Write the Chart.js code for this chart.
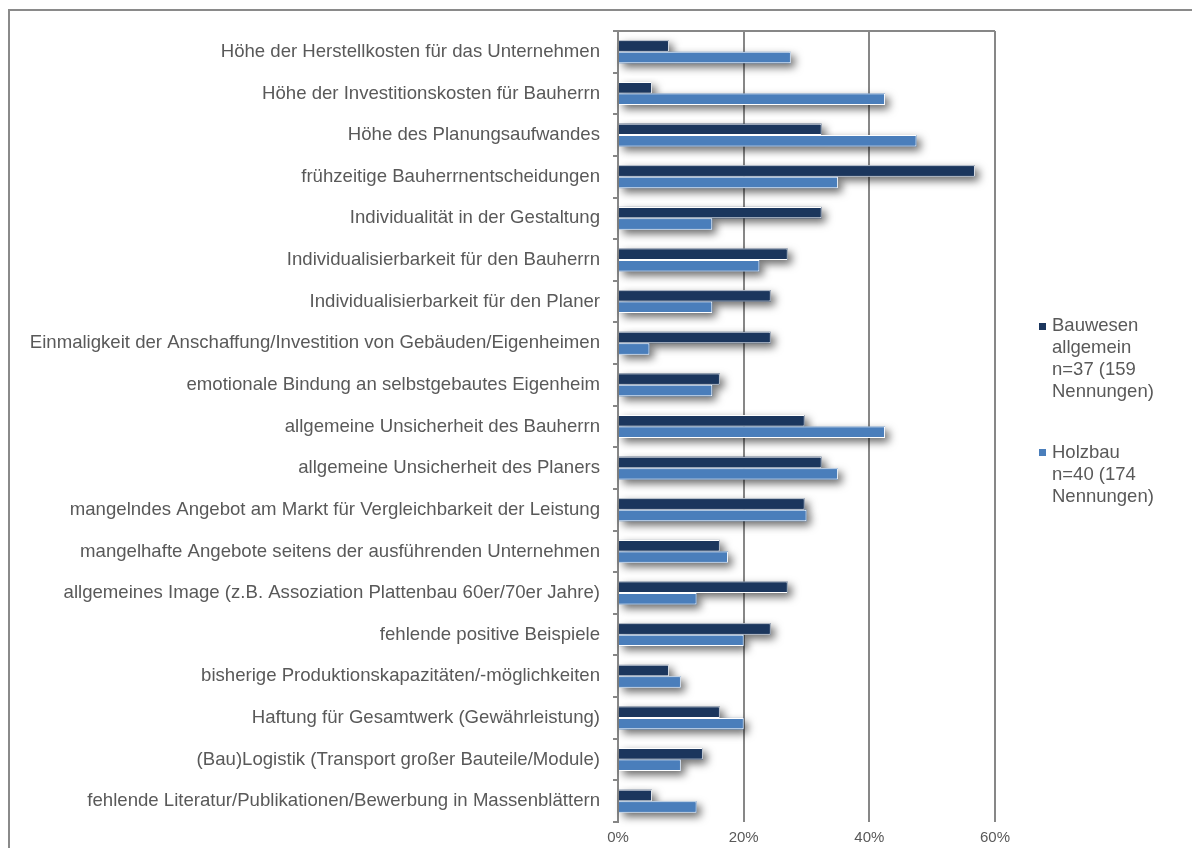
<!DOCTYPE html>
<html>
<head>
<meta charset="utf-8">
<script src="https://cdn.jsdelivr.net/npm/chart.js@4"></script>
<style>
  body { margin: 0; background: #fff; font-family: "Liberation Sans", Arial, sans-serif; }
  #wrap { position: relative; width: 1192px; height: 848px; overflow: hidden; }
  #frame { position: absolute; left: 8px; top: 9px; width: 1400px; height: 1000px; border: 2px solid #8a8a8a; box-sizing: border-box; }
  canvas { position: absolute; left: 0; top: 0; }
  .leg { position: absolute; left: 1052px; font-size: 18.5px; line-height: 22px; color: #595959; }
  .sw { position: absolute; left: 1039px; width: 7px; height: 7px; }
</style>
</head>
<body>
<div id="wrap">
  <div id="frame"></div>
  <canvas id="chart" width="1192" height="848"></canvas>
  <div class="sw" style="top:323px;background:#1b365d"></div>
  <div class="leg" style="top:314px">Bauwesen<br>allgemein<br>n=37 (159<br>Nennungen)</div>
  <div class="sw" style="top:449px;background:#4a7ebb"></div>
  <div class="leg" style="top:441px">Holzbau<br>n=40 (174<br>Nennungen)</div>
</div>
<script>
const categories = [
  'Höhe der Herstellkosten für das Unternehmen',
  'Höhe der Investitionskosten für Bauherrn',
  'Höhe des Planungsaufwandes',
  'frühzeitige Bauherrnentscheidungen',
  'Individualität in der Gestaltung',
  'Individualisierbarkeit für den Bauherrn',
  'Individualisierbarkeit für den Planer',
  'Einmaligkeit der Anschaffung/Investition von Gebäuden/Eigenheimen',
  'emotionale Bindung an selbstgebautes Eigenheim',
  'allgemeine Unsicherheit des Bauherrn',
  'allgemeine Unsicherheit des Planers',
  'mangelndes Angebot am Markt für Vergleichbarkeit der Leistung',
  'mangelhafte Angebote seitens der ausführenden Unternehmen',
  'allgemeines Image (z.B. Assoziation Plattenbau 60er/70er Jahre)',
  'fehlende positive Beispiele',
  'bisherige Produktionskapazitäten/-möglichkeiten',
  'Haftung für Gesamtwerk (Gewährleistung)',
  '(Bau)Logistik (Transport großer Bauteile/Module)',
  'fehlende Literatur/Publikationen/Bewerbung in Massenblättern'
];

// percentages of respondents
const bauwesen = [8.1, 5.4, 32.4, 56.8, 32.4, 27.0, 24.3, 24.3, 16.2, 29.7, 32.4, 29.7, 16.2, 27.0, 24.3, 8.1, 16.2, 13.5, 5.4];
const holzbau = [27.5, 42.5, 47.5, 35.0, 15.0, 22.5, 15.0, 5.0, 15.0, 42.5, 35.0, 30.0, 17.5, 12.5, 20.0, 10.0, 20.0, 10.0, 12.5];

const xTicks = [0, 20, 40, 60];

const seriesNames = ['Bauwesen allgemein n=37 (159 Nennungen)', 'Holzbau n=40 (174 Nennungen)'];

const gridGray = '#878787';
const textGray = '#595959';

// soft drop shadow behind every bar
const barShadow = {
  id: 'barShadow',
  beforeDatasetsDraw(chart) {
    const ctx = chart.ctx;
    ctx.save();
    ctx.shadowColor = 'rgba(0,0,0,0.6)';
    ctx.shadowBlur = 8;
    ctx.shadowOffsetX = 4;
    ctx.shadowOffsetY = 4;
    chart.data.datasets.forEach((ds, i) => {
      chart.getDatasetMeta(i).data.forEach(bar => {
        const { x, y, base, height } = bar.getProps(['x', 'y', 'base', 'height'], true);
        ctx.fillStyle = ds.backgroundColor;
        ctx.fillRect(base, y - height / 2, x - base, height);
      });
    });
    ctx.restore();
  }
};

new Chart(document.getElementById('chart'), {
  type: 'bar',
  data: {
    labels: categories,
    datasets: [
      { label: seriesNames[0], data: bauwesen, backgroundColor: '#1b365d', borderColor: '#ffffff', borderWidth: 1 },
      { label: seriesNames[1], data: holzbau, backgroundColor: '#4a7ebb', borderColor: '#ffffff', borderWidth: 1 }
    ]
  },
  options: {
    indexAxis: 'y',
    responsive: false,
    animation: false,
    datasets: { bar: { categoryPercentage: 0.55, barPercentage: 1 } },
    layout: { padding: { left: 10, top: 31, right: 197, bottom: 0 } },
    plugins: { legend: { display: false }, tooltip: { enabled: false } },
    scales: {
      x: {
        min: 0,
        max: 60,
        afterBuildTicks: s => { s.ticks = xTicks.map(v => ({ value: v })); },
        afterFit: s => { s.height = 26; },
        grid: { color: gridGray, lineWidth: 2, drawTicks: false },
        border: { display: false },
        ticks: { color: textGray, padding: 7, font: { family: 'Liberation Sans', size: 15 }, callback: v => v + '%' }
      },
      y: {
        afterFit: s => { s.width = 608; },
        grid: {
          offset: true,
          tickLength: 5,
          tickColor: gridGray,
          lineWidth: 2,
          tickWidth: 2,
          color: c => c.index === 0 ? gridGray : 'rgba(0,0,0,0)'
        },
        border: { color: gridGray, width: 2 },
        ticks: { color: textGray, padding: 13, autoSkip: false, font: { family: 'Liberation Sans', size: 18.6 } }
      }
    }
  },
  plugins: [barShadow]
});
</script>
</body>
</html>
